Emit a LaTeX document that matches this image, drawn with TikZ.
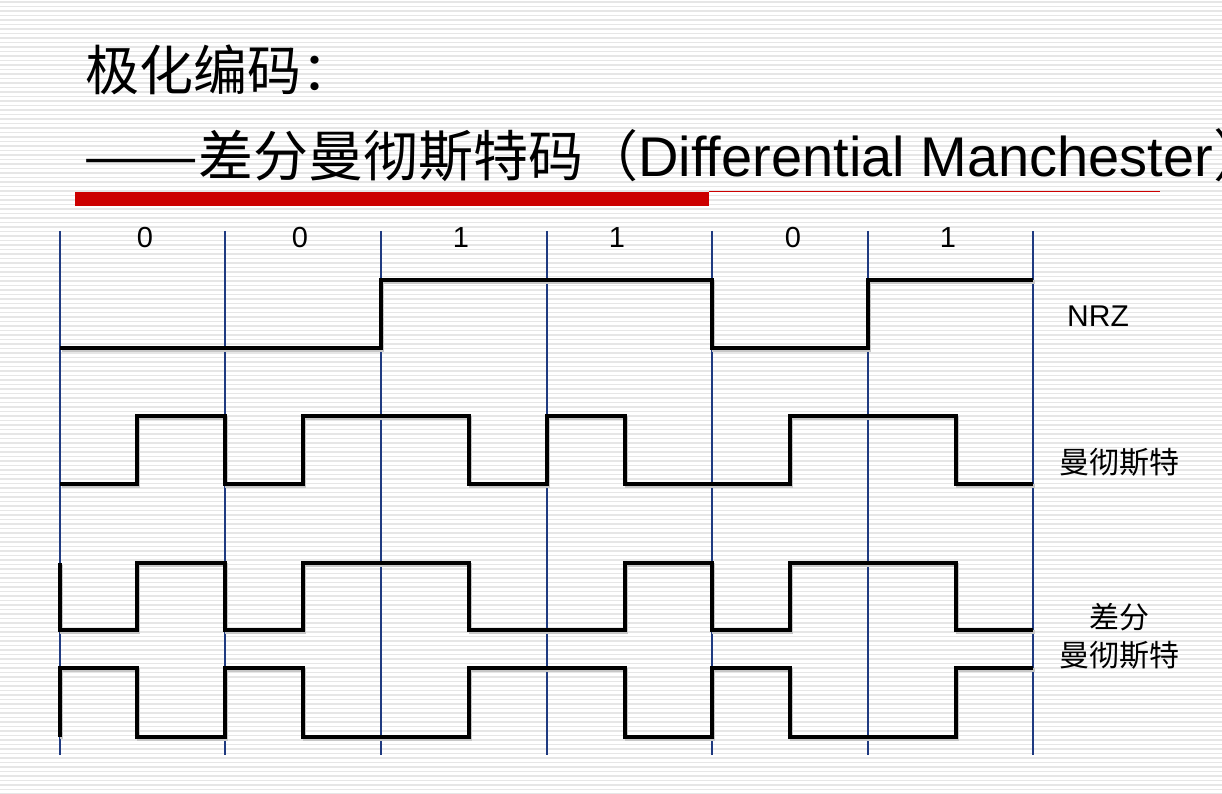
\documentclass[tikz,border=0pt]{standalone}
\usepackage{fontspec}
\setmainfont{Liberation Sans}
\newfontfamily\cjk{Noto Sans CJK SC}
\definecolor{stripe}{HTML}{E6E6E6}
\definecolor{clk}{HTML}{1F3A80}
\definecolor{bar}{HTML}{CC0000}
\tikzset{px/.style={x=1pt,y=-1pt,line join=miter},
  wave/.style={line width=3.6pt,preaction={draw=black!22,line width=3.6pt,transform canvas={shift={(1.6pt,-1.8pt)}}}},
  tick/.style={clk,line width=1.5pt},
  bit/.style={inner sep=0pt,font=\fontsize{29}{30}\selectfont},
  tag/.style={inner sep=0pt,align=center,font=\cjk\fontsize{30}{38}\selectfont}}

\begin{document}
\begin{tikzpicture}[px]
  \useasboundingbox (0,0) rectangle (1222,794);
  \fill[white] (0,0) rectangle (1222,794);
  \foreach \y in {2,6.5,...,794}{\draw[stripe,line width=1.8pt] (0,\y)--(1222,\y);}
  % title
  \node[anchor=base west,inner sep=0pt,font=\cjk\fontsize{54}{54}\selectfont] (t1) at (85,91) {极化编码：};
  \node[anchor=base west,inner sep=0pt,font=\fontsize{56}{56}\selectfont] (t2) at (83,177) {{\cjk\fontsize{55}{55}\selectfont\scalebox{1.25}[1]{——}差分曼彻斯特码（}Differential Manchester{\cjk ）}};
  \fill[bar] (75,192) rectangle (709,206);
  \draw[bar,line width=1pt] (709,191.5)--(1160,191.5);
  % clock lines and bits
  \foreach \x in {60,225,381,547,712,868,1033}{\draw[tick] (\x,231)--(\x,755);}
  \foreach \x/\b [count=\i] in {145/0,300/0,461/1,617/1,793/0,948/1}{\node[bit] (b\i) at (\x,238) {\b};}
  % waveforms
  \draw[wave] (60,348) -| (381,280) -| (712,348) -| (868,280) -- (1033,280);
  \draw[wave] (60,484) -| (137,416) -| (225,484) -| (303,416) -| (469,484) -| (547,416) -| (625,484) -| (790,416) -| (956,484) -- (1033,484);
  \draw[wave] (60,563) -- (60,630) -| (137,563) -| (225,630) -| (303,563) -| (469,630) -| (625,563) -| (712,630) -| (790,563) -| (956,630) -- (1033,630);
  \draw[wave] (60,737) -- (60,668) -| (137,737) -| (225,668) -| (303,737) -| (469,668) -| (625,737) -| (712,668) -| (790,737) -| (956,668) -- (1033,668);
  % row names
  \node[bit,font=\fontsize{30}{30}\selectfont] (nrz) at (1098,316) {NRZ};
  \node[tag] (man) at (1119,462) {曼彻斯特};
  \node[tag] (diff) at (1119,636) {差分\\曼彻斯特};
\end{tikzpicture}
\end{document}
